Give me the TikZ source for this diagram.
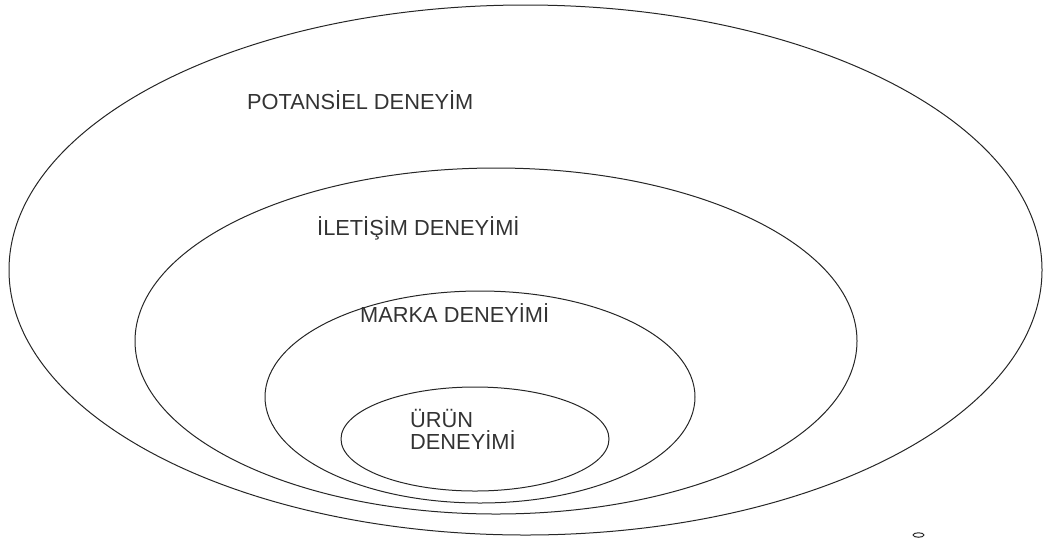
\documentclass[tikz,border=0pt]{standalone}
\usepackage{fontspec}
\setmainfont{Liberation Sans}
\usetikzlibrary{shapes.geometric}
\begin{document}
\begin{tikzpicture}[x=1pt,y=-1pt,
  ring/.style={draw=black!85, line width=1pt, ellipse, inner sep=0pt, outer sep=0pt},
  lbl/.style={anchor=base west, inner sep=0pt, font=\fontsize{21.8}{22}\selectfont, text=black!80}]
\useasboundingbox (0,0) rectangle (1043,542);
\node[ring, minimum width=1033pt, minimum height=530pt] (outer) at (525.5,270) {};
\node[ring, minimum width=722pt, minimum height=346pt] (comm) at (496,341) {};
\node[ring, minimum width=430pt, minimum height=212pt] (brand) at (480,397) {};
\node[ring, minimum width=268pt, minimum height=104pt] (prod) at (475,439) {};
\node[ring, minimum width=11pt, minimum height=4.5pt] (dot) at (918.5,535) {};
\node[lbl] (t1) at (247,109) {POTANSİEL DENEYİM};
\node[lbl] (t2) at (317,235) {İLETİŞİM DENEYİMİ};
\node[lbl] (t3) at (360,322) {MARKA DENEYİMİ};
\node[lbl] (t4) at (410,427) {ÜRÜN};
\node[lbl] (t5) at (410,449) {DENEYİMİ};
\end{tikzpicture}
\end{document}
